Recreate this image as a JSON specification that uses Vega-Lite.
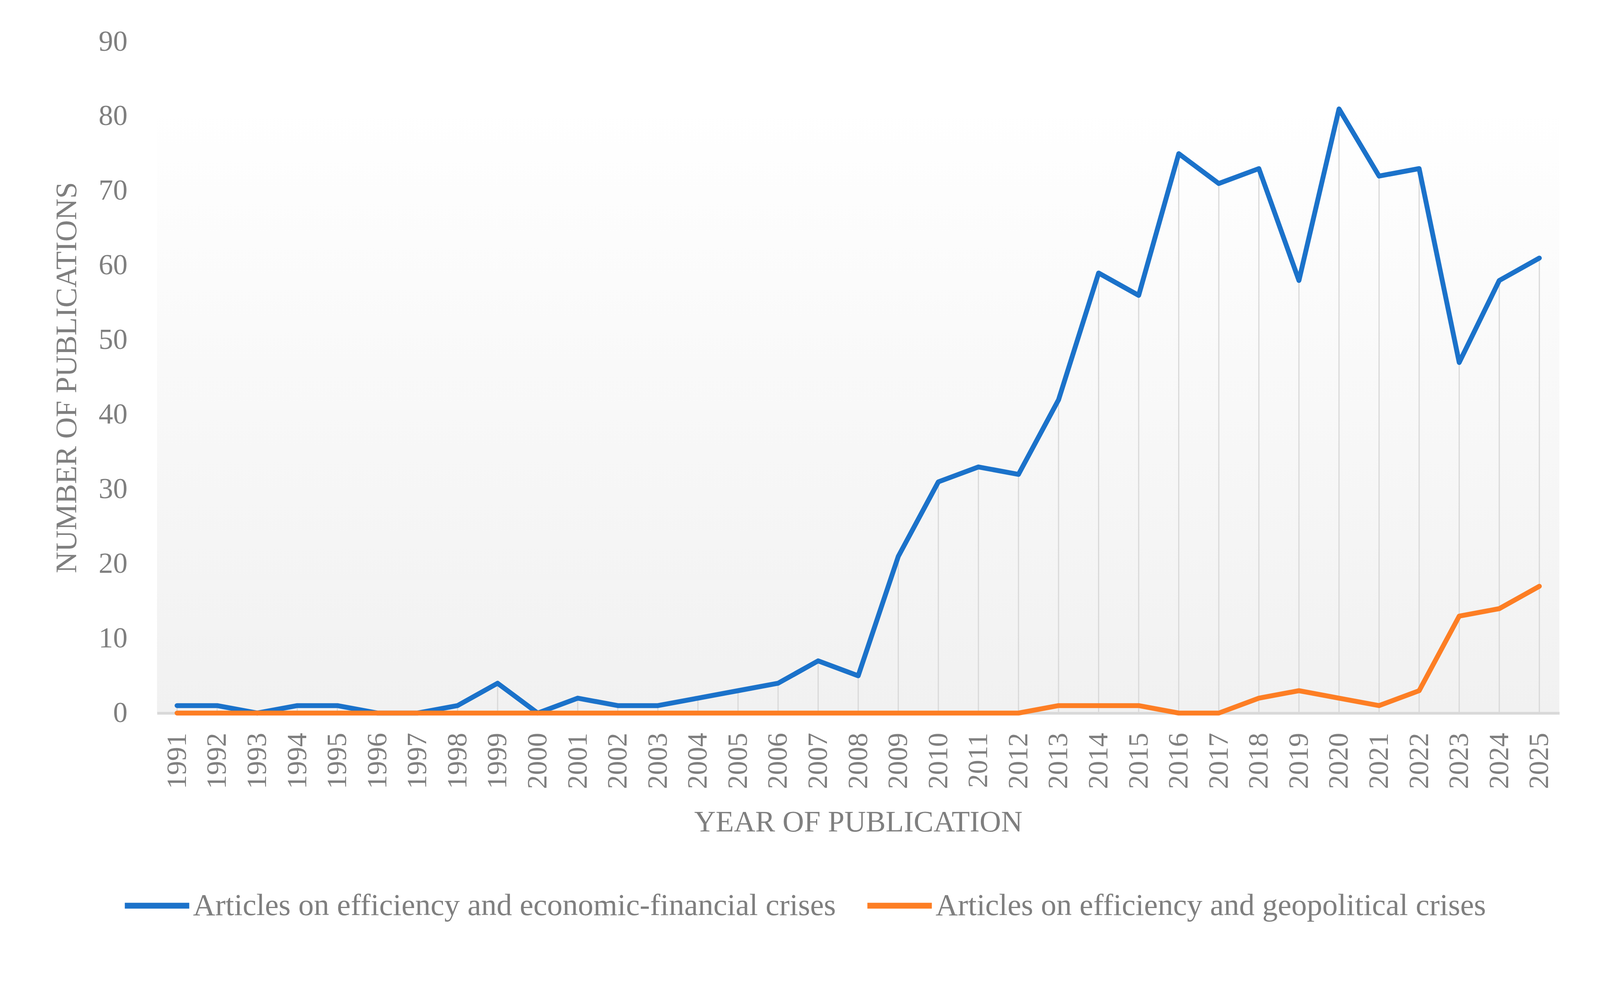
{
  "$schema": "https://vega.github.io/schema/vega-lite/v6.json",
  "autosize": {"type": "none"},
  "padding": {"left": 402, "top": 107, "right": 232, "bottom": 719},
  "width": 3590,
  "height": 1718,
  "background": "#ffffff",
  "config": {
    "font": "Liberation Serif",
    "view": {
      "stroke": null,
      "fill": {
        "gradient": "linear",
        "x1": 0, "y1": 0, "x2": 0, "y2": 1,
        "stops": [
          {"offset": 0, "color": "#ffffff"},
          {"offset": 0.1, "color": "#ffffff"},
          {"offset": 1, "color": "#f1f1f1"}
        ]
      }
    },
    "axis": {
      "labelColor": "#7f7f7f",
      "titleColor": "#7f7f7f",
      "titleFontWeight": "normal",
      "ticks": false,
      "grid": false
    }
  },
  "data": {
    "values": [
      {"year": "1991", "series": "Articles on efficiency and economic-financial crises", "count": 1},
      {"year": "1992", "series": "Articles on efficiency and economic-financial crises", "count": 1},
      {"year": "1993", "series": "Articles on efficiency and economic-financial crises", "count": 0},
      {"year": "1994", "series": "Articles on efficiency and economic-financial crises", "count": 1},
      {"year": "1995", "series": "Articles on efficiency and economic-financial crises", "count": 1},
      {"year": "1996", "series": "Articles on efficiency and economic-financial crises", "count": 0},
      {"year": "1997", "series": "Articles on efficiency and economic-financial crises", "count": 0},
      {"year": "1998", "series": "Articles on efficiency and economic-financial crises", "count": 1},
      {"year": "1999", "series": "Articles on efficiency and economic-financial crises", "count": 4},
      {"year": "2000", "series": "Articles on efficiency and economic-financial crises", "count": 0},
      {"year": "2001", "series": "Articles on efficiency and economic-financial crises", "count": 2},
      {"year": "2002", "series": "Articles on efficiency and economic-financial crises", "count": 1},
      {"year": "2003", "series": "Articles on efficiency and economic-financial crises", "count": 1},
      {"year": "2004", "series": "Articles on efficiency and economic-financial crises", "count": 2},
      {"year": "2005", "series": "Articles on efficiency and economic-financial crises", "count": 3},
      {"year": "2006", "series": "Articles on efficiency and economic-financial crises", "count": 4},
      {"year": "2007", "series": "Articles on efficiency and economic-financial crises", "count": 7},
      {"year": "2008", "series": "Articles on efficiency and economic-financial crises", "count": 5},
      {"year": "2009", "series": "Articles on efficiency and economic-financial crises", "count": 21},
      {"year": "2010", "series": "Articles on efficiency and economic-financial crises", "count": 31},
      {"year": "2011", "series": "Articles on efficiency and economic-financial crises", "count": 33},
      {"year": "2012", "series": "Articles on efficiency and economic-financial crises", "count": 32},
      {"year": "2013", "series": "Articles on efficiency and economic-financial crises", "count": 42},
      {"year": "2014", "series": "Articles on efficiency and economic-financial crises", "count": 59},
      {"year": "2015", "series": "Articles on efficiency and economic-financial crises", "count": 56},
      {"year": "2016", "series": "Articles on efficiency and economic-financial crises", "count": 75},
      {"year": "2017", "series": "Articles on efficiency and economic-financial crises", "count": 71},
      {"year": "2018", "series": "Articles on efficiency and economic-financial crises", "count": 73},
      {"year": "2019", "series": "Articles on efficiency and economic-financial crises", "count": 58},
      {"year": "2020", "series": "Articles on efficiency and economic-financial crises", "count": 81},
      {"year": "2021", "series": "Articles on efficiency and economic-financial crises", "count": 72},
      {"year": "2022", "series": "Articles on efficiency and economic-financial crises", "count": 73},
      {"year": "2023", "series": "Articles on efficiency and economic-financial crises", "count": 47},
      {"year": "2024", "series": "Articles on efficiency and economic-financial crises", "count": 58},
      {"year": "2025", "series": "Articles on efficiency and economic-financial crises", "count": 61},
      {"year": "1991", "series": "Articles on efficiency and geopolitical crises", "count": 0},
      {"year": "1992", "series": "Articles on efficiency and geopolitical crises", "count": 0},
      {"year": "1993", "series": "Articles on efficiency and geopolitical crises", "count": 0},
      {"year": "1994", "series": "Articles on efficiency and geopolitical crises", "count": 0},
      {"year": "1995", "series": "Articles on efficiency and geopolitical crises", "count": 0},
      {"year": "1996", "series": "Articles on efficiency and geopolitical crises", "count": 0},
      {"year": "1997", "series": "Articles on efficiency and geopolitical crises", "count": 0},
      {"year": "1998", "series": "Articles on efficiency and geopolitical crises", "count": 0},
      {"year": "1999", "series": "Articles on efficiency and geopolitical crises", "count": 0},
      {"year": "2000", "series": "Articles on efficiency and geopolitical crises", "count": 0},
      {"year": "2001", "series": "Articles on efficiency and geopolitical crises", "count": 0},
      {"year": "2002", "series": "Articles on efficiency and geopolitical crises", "count": 0},
      {"year": "2003", "series": "Articles on efficiency and geopolitical crises", "count": 0},
      {"year": "2004", "series": "Articles on efficiency and geopolitical crises", "count": 0},
      {"year": "2005", "series": "Articles on efficiency and geopolitical crises", "count": 0},
      {"year": "2006", "series": "Articles on efficiency and geopolitical crises", "count": 0},
      {"year": "2007", "series": "Articles on efficiency and geopolitical crises", "count": 0},
      {"year": "2008", "series": "Articles on efficiency and geopolitical crises", "count": 0},
      {"year": "2009", "series": "Articles on efficiency and geopolitical crises", "count": 0},
      {"year": "2010", "series": "Articles on efficiency and geopolitical crises", "count": 0},
      {"year": "2011", "series": "Articles on efficiency and geopolitical crises", "count": 0},
      {"year": "2012", "series": "Articles on efficiency and geopolitical crises", "count": 0},
      {"year": "2013", "series": "Articles on efficiency and geopolitical crises", "count": 1},
      {"year": "2014", "series": "Articles on efficiency and geopolitical crises", "count": 1},
      {"year": "2015", "series": "Articles on efficiency and geopolitical crises", "count": 1},
      {"year": "2016", "series": "Articles on efficiency and geopolitical crises", "count": 0},
      {"year": "2017", "series": "Articles on efficiency and geopolitical crises", "count": 0},
      {"year": "2018", "series": "Articles on efficiency and geopolitical crises", "count": 2},
      {"year": "2019", "series": "Articles on efficiency and geopolitical crises", "count": 3},
      {"year": "2020", "series": "Articles on efficiency and geopolitical crises", "count": 2},
      {"year": "2021", "series": "Articles on efficiency and geopolitical crises", "count": 1},
      {"year": "2022", "series": "Articles on efficiency and geopolitical crises", "count": 3},
      {"year": "2023", "series": "Articles on efficiency and geopolitical crises", "count": 13},
      {"year": "2024", "series": "Articles on efficiency and geopolitical crises", "count": 14},
      {"year": "2025", "series": "Articles on efficiency and geopolitical crises", "count": 17}
    ]
  },
  "encoding": {
    "x": {
      "field": "year",
      "type": "ordinal",
      "scale": {"type": "point", "padding": 0.5},
      "axis": {
        "title": "YEAR OF PUBLICATION",
        "titleFontSize": 76,
        "titlePadding": 48,
        "labelFontSize": 72,
        "labelAngle": -90,
        "labelPadding": 50,
        "domainColor": "#d9d9d9",
        "domainWidth": 7
      }
    },
    "y": {
      "field": "count",
      "type": "quantitative",
      "scale": {"domain": [0, 90]},
      "axis": {
        "title": "NUMBER OF PUBLICATIONS",
        "titleFontSize": 76,
        "titlePadding": 42,
        "labelFontSize": 74,
        "labelPadding": 76,
        "values": [0, 10, 20, 30, 40, 50, 60, 70, 80, 90],
        "domain": false
      }
    }
  },
  "layer": [
    {
      "transform": [{"filter": "datum.series === 'Articles on efficiency and economic-financial crises'"}],
      "mark": {"type": "rule", "color": "#d9d9d9", "strokeWidth": 3},
      "encoding": {
        "y2": {"datum": 0}
      }
    },
    {
      "mark": {"type": "line", "strokeWidth": 12.5, "strokeCap": "round", "strokeJoin": "round"},
      "encoding": {
        "color": {
          "field": "series",
          "type": "nominal",
          "scale": {
            "domain": ["Articles on efficiency and economic-financial crises", "Articles on efficiency and geopolitical crises"],
            "range": ["#1b72ca", "#fd7e24"]
          },
          "legend": {
            "title": null,
            "orient": "none",
            "direction": "horizontal",
            "legendX": -90,
            "legendY": 2121,
            "labelFontSize": 79,
            "labelColor": "#7f7f7f",
            "labelLimit": 2500,
            "symbolType": "stroke",
            "symbolSize": 27225,
            "symbolStrokeWidth": 15,
            "symbolOffset": 0,
            "labelOffset": 2,
            "columnPadding": 50
          }
        }
      }
    }
  ]
}
